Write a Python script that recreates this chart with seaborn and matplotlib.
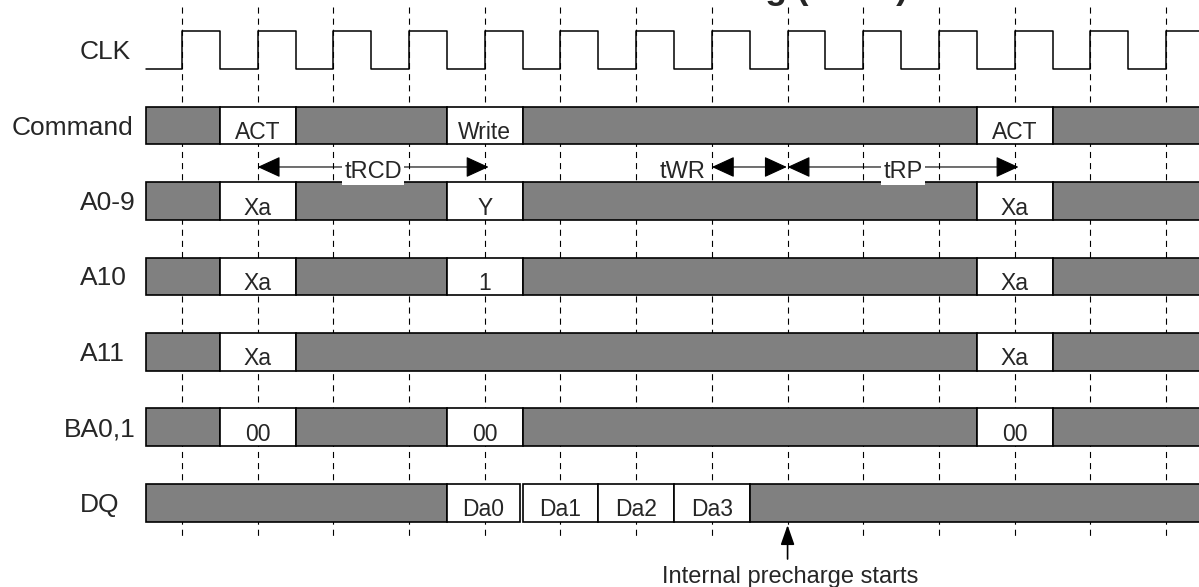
"""Write-with-auto-precharge timing diagram on a clock-cycle grid."""

import matplotlib

matplotlib.use("Agg", force=True)

import matplotlib.pyplot as plt
import pandas as pd
import seaborn as sns

# rows, top to bottom
signals = ["CLK", "Command", "A0-9", "A10", "A11", "BA0,1", "DQ"]

# rising clock edges, in clock cycles
clk_rise = [0, 1, 2, 3, 4, 5, 6, 7, 8, 9, 10, 11, 12, 13]
clk_start = -0.48

# bus segments (start, end, text); text None = don't care (grey)
command_bus = [(-0.48, 0.5, None), (0.5, 1.5, "ACT"), (1.5, 3.5, None),
               (3.5, 4.5, "Write"), (4.5, 10.5, None), (10.5, 11.5, "ACT"),
               (11.5, 13.6, None)]
a0_9_bus = [(-0.48, 0.5, None), (0.5, 1.5, "Xa"), (1.5, 3.5, None),
            (3.5, 4.5, "Y"), (4.5, 10.5, None), (10.5, 11.5, "Xa"),
            (11.5, 13.6, None)]
a10_bus = [(-0.48, 0.5, None), (0.5, 1.5, "Xa"), (1.5, 3.5, None),
           (3.5, 4.5, "1"), (4.5, 10.5, None), (10.5, 11.5, "Xa"),
           (11.5, 13.6, None)]
a11_bus = [(-0.48, 0.5, None), (0.5, 1.5, "Xa"), (1.5, 10.5, None),
           (10.5, 11.5, "Xa"), (11.5, 13.6, None)]
ba_bus = [(-0.48, 0.5, None), (0.5, 1.5, "00"), (1.5, 3.5, None),
          (3.5, 4.5, "00"), (4.5, 10.5, None), (10.5, 11.5, "00"),
          (11.5, 13.6, None)]
dq_bus = [(-0.48, 3.5, None), (3.5, 4.46, "Da0"), (4.5, 5.5, "Da1"),
          (5.5, 6.5, "Da2"), (6.5, 7.5, "Da3"), (7.5, 13.6, None)]
buses = [command_bus, a0_9_bus, a10_bus, a11_bus, ba_bus, dq_bus]

# timing intervals (name, from, to)
timing = [("tRCD", 1.0, 4.05), ("tWR", 7.0, 7.99), ("tRP", 8.0, 11.05)]
precharge_at = 8.0
title = "SDRAM Write Timing (BL=4)"

GREY = "#808080"
label_left = {"Command": -2.25, "BA0,1": -1.56}

sns.set_theme(style="white")
plt.rcParams["font.family"] = ["Liberation Sans", "DejaVu Sans"]

fig = plt.figure(figsize=(11.99, 5.87), dpi=100)
ax = fig.add_axes([0, 0, 1, 1])

# clock-edge guide lines
ax.vlines(clk_rise, -0.57, 6.44, colors="black", linewidth=0.8,
          linestyles=(0, (5.5, 4.5)), zorder=1)

# clock waveform
pts = [(clk_start, 0.25)]
for r in clk_rise:
    pts += [(r, 0.25), (r, -0.25), (r + 0.5, -0.25), (r + 0.5, 0.25)]
clk = pd.DataFrame(pts, columns=["t", "level"])
sns.lineplot(data=clk, x="t", y="level", sort=False, estimator=None,
             color="black", linewidth=1.1, ax=ax, zorder=3)

# bus rows
for row, segs in enumerate(buses, start=1):
    for start, end, text in segs:
        ax.barh(row, end - start, left=start, height=0.5,
                color=GREY if text is None else "white",
                edgecolor="black", linewidth=1.2, zorder=2)
        if text:
            ax.text((start + end) / 2, row + 0.18, text, ha="center",
                    va="baseline", fontsize=16.5, zorder=4)

# row labels
for row, name in enumerate(signals):
    ax.text(label_left.get(name, -1.35), row + 0.12, name, ha="left",
            va="baseline", fontsize=19)

# timing arrows
ya = 1.55
for name, x0, x1 in timing:
    ax.annotate("", xy=(x1, ya), xytext=(x0, ya),
                arrowprops=dict(arrowstyle="<|-|>,head_length=1.2,head_width=0.55",
                                mutation_scale=12, color="black", lw=0.8,
                                shrinkA=0, shrinkB=0), zorder=4)
    if name == "tWR":
        ax.text(x0 - 0.08, ya + 0.14, name, ha="right", va="baseline",
                fontsize=17, zorder=5)
    else:
        ax.text((x0 + x1) / 2, ya + 0.14, name, ha="center", va="baseline",
                fontsize=17, zorder=5,
                bbox=dict(facecolor="white", edgecolor="none", pad=1.5))

# internal precharge marker
ax.annotate("", xy=(precharge_at, 6.295), xytext=(precharge_at, 6.745),
            arrowprops=dict(arrowstyle="-|>,head_length=1.0,head_width=0.35",
                            mutation_scale=12, color="black", lw=1.2,
                            shrinkA=0, shrinkB=0))
ax.text(precharge_at + 0.03, 7.063, "Internal precharge starts", ha="center",
        va="baseline", fontsize=17)

ax.set_xlim(-2.404, 13.435)
ax.set_ylim(7.116, -0.663)
ax.axis("off")

# title sits mostly above the visible area, only descenders show
fig.text(907.5 / 1199, 1 + 1 / 587, title, ha="right", va="baseline",
         fontsize=25.5, fontweight="bold")

fig.savefig("out.png", dpi=100)
plt.close(fig)
